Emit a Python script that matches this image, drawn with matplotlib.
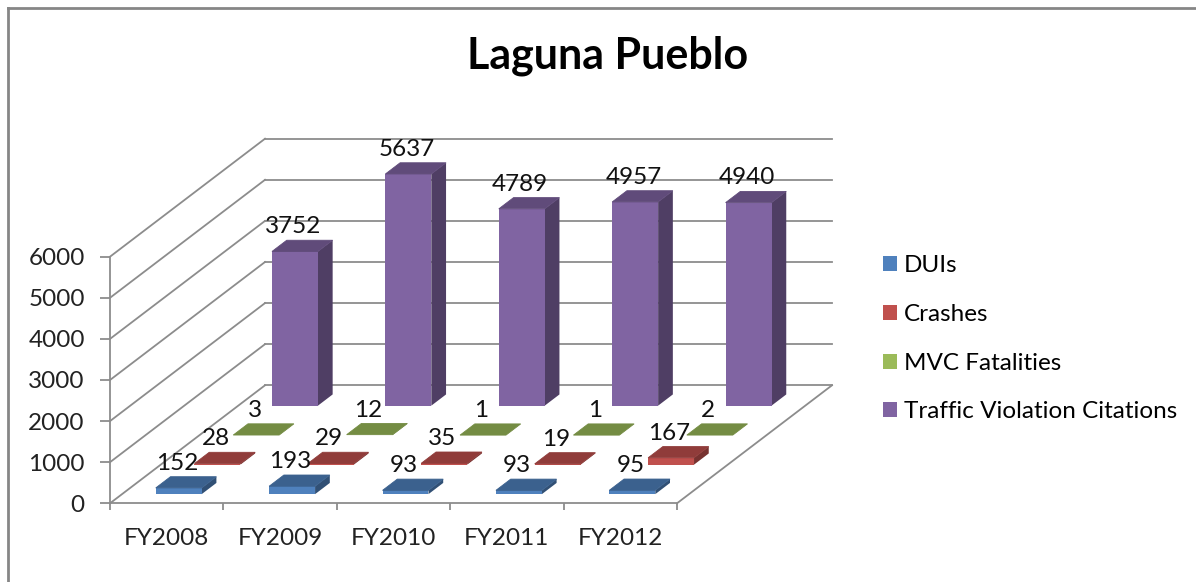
import matplotlib.pyplot as plt
from matplotlib.patches import Polygon, Patch
from matplotlib.lines import Line2D

years = ["FY2008", "FY2009", "FY2010", "FY2011", "FY2012"]
duis = [152, 193, 93, 93, 95]
crashes = [28, 29, 35, 19, 167]
fatalities = [3, 12, 1, 1, 2]
citations = [3752, 5637, 4789, 4957, 4940]
series_names = ["DUIs", "Crashes", "MVC Fatalities", "Traffic Violation Citations"]
colors = ["#4F81BD", "#C0504D", "#9BBB59", "#8064A2"]

W, H = 1196, 582
FONT = "Lato"
FS = 17.5
GRID = "#8c8c8c"

# oblique depth: full depth shifts 155px right, 118px up
DX = 155 / 113.4
DY = 118 / 41.1 * 1000
BAR_W = 0.405
BAR_D = 0.095


def proj(x, v, d):
    return x + d * DX, v + d * DY


def shade(hexcol, f):
    r, g, b = (int(hexcol[i:i + 2], 16) / 255 for i in (1, 3, 5))
    return (r * f, g * f, b * f)


def main():
    plt.rcParams['font.family'] = [FONT, 'DejaVu Sans']
    fig = plt.figure(figsize=(W / 100, H / 100), dpi=100)
    ax = fig.add_axes([110 / W, (H - 503.3) / H, (677 - 110) / W, (503.3 - 256.7) / H])
    ax.set_xlim(-0.5, 4.5)
    ax.set_ylim(0, 6000)
    ax.patch.set_visible(False)
    for s in ('top', 'right'):
        ax.spines[s].set_visible(False)
    for s in ('left', 'bottom'):
        ax.spines[s].set_color(GRID)
        ax.spines[s].set_linewidth(1.3)
        ax.spines[s].set_zorder(1)

    # ticks
    ax.set_yticks(range(0, 7000, 1000))
    ax.tick_params(axis='y', length=7.2, width=1.3, color=GRID, pad=11,
                   labelsize=FS, labelcolor='#222222')
    ax.set_xticks([i - 0.5 for i in range(len(years) + 1)])
    ax.set_xticklabels([])
    ax.set_xticks(range(len(years)), minor=True)
    ax.set_xticklabels(years, minor=True)
    ax.tick_params(axis='x', which='major', length=5, width=1.3, color=GRID)
    ax.tick_params(axis='x', which='minor', length=0, pad=18,
                   labelsize=FS, labelcolor='#222222')

    # walls
    for v in range(0, 7000, 1000):
        ax.plot(*zip(proj(-0.5, v, 1), proj(4.5, v, 1)), color=GRID, lw=1.3,
                zorder=1, clip_on=False)
        ax.plot(*zip(proj(-0.5, v, 0), proj(-0.5, v, 1)), color=GRID, lw=1.3,
                zorder=1, clip_on=False)
    ax.plot(*zip(proj(4.5, 0, 0), proj(4.5, 0, 1)), color=GRID, lw=1.3,
            zorder=1, clip_on=False)

    # bars, back row first
    data = [duis, crashes, fatalities, citations]
    for s in range(3, -1, -1):
        d0 = (s + 0.5) / 4 - BAR_D / 2
        d1 = d0 + BAR_D
        col = colors[s]
        for c, v in enumerate(data[s]):
            x0, x1 = c - BAR_W / 2, c + BAR_W / 2
            z = 10 + (3 - s) * 10 + c
            front = [proj(x0, 0, d0), proj(x1, 0, d0), proj(x1, v, d0), proj(x0, v, d0)]
            top = [proj(x0, v, d0), proj(x1, v, d0), proj(x1, v, d1), proj(x0, v, d1)]
            side = [proj(x1, 0, d0), proj(x1, 0, d1), proj(x1, v, d1), proj(x1, v, d0)]
            ax.add_patch(Polygon(side, closed=True, fc=shade(col, 0.62), ec='none',
                                 zorder=z, clip_on=False))
            ax.add_patch(Polygon(front, closed=True, fc=col, ec='none',
                                 zorder=z, clip_on=False))
            ax.add_patch(Polygon(top, closed=True, fc=shade(col, 0.75),
                                 ec=shade(col, 0.75), lw=0.6, zorder=z, clip_on=False))
            lx, _ = proj(c - 0.015, v, d0)
            _, ly = proj(c, v, d1)
            ax.annotate(str(v), (lx, ly), xytext=(0, 5), textcoords='offset points',
                        ha='center', va='baseline', fontsize=FS, color='#111111',
                        zorder=100, annotation_clip=False)

    fig.text(608 / W, 1 - 69 / H, "Laguna Pueblo", ha='center', va='baseline',
             fontsize=31, fontweight='bold', color='black')

    handles = [Patch(facecolor=c, edgecolor='none', label=n)
               for c, n in zip(colors, series_names)]
    fig.legend(handles=handles, loc='upper left', bbox_to_anchor=(883 / W, 1 - 255 / H),
               frameon=False, fontsize=FS, handlelength=0.58, handleheight=0.58,
               handletextpad=0.27, labelspacing=1.145, borderpad=0, borderaxespad=0)

    # chart frame
    fig.add_artist(Line2D([8 / W, 8 / W], [0, 1 - 8 / H], transform=fig.transFigure,
                          color='#868686', lw=2))
    fig.add_artist(Line2D([8 / W, 1], [1 - 8 / H, 1 - 8 / H], transform=fig.transFigure,
                          color='#868686', lw=2))

    fig.savefig("out.png", dpi=100)


if __name__ == '__main__':
    main()
